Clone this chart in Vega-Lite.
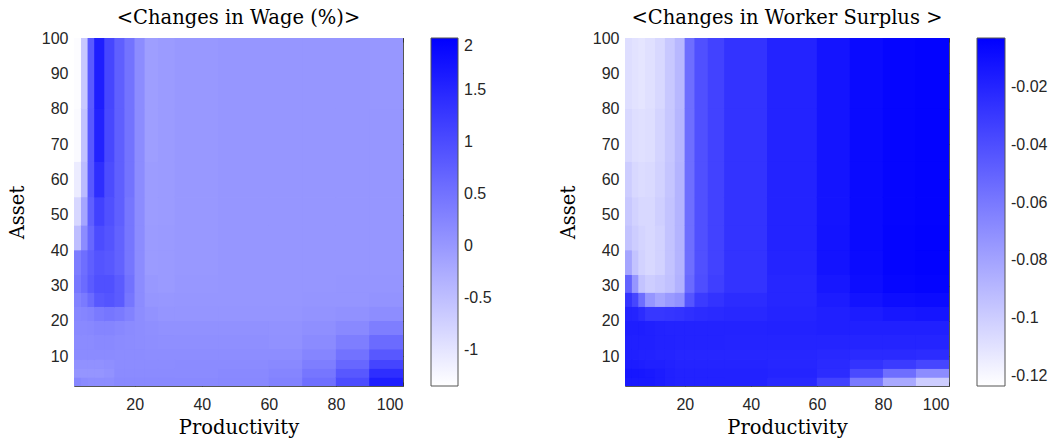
{
"$schema": "https://vega.github.io/schema/vega-lite/v6.json",
"padding": {"left": 6, "top": 7, "right": 2, "bottom": 2},
"background": "white",
"config": {
"locale": {"number": {"decimal": ".", "thousands": ",", "grouping": [3], "currency": ["$", ""], "minus": "-"}},
"view": {"stroke": "#555", "strokeWidth": 1},
"axis": {"domain": false, "grid": false, "tickColor": "#333", "tickSize": -4, "tickWidth": 1, "labelFont": "Liberation Sans", "labelFontSize": 16, "labelColor": "#262626", "titleFont": "DejaVu Serif", "titleFontSize": 19.5, "titleFontWeight": "normal", "titleColor": "#000"},
"title": {"font": "DejaVu Serif", "fontSize": 19.5, "fontWeight": "normal", "color": "#000", "frame": "group", "anchor": "middle", "offset": 2},
"legend": {"padding": 0}
},
"resolve": {"scale": {"fill": "independent", "stroke": "independent"}},
"spacing": 64,
"datasets": {
"wage": [
{"x":1.9,"x2":4,"y":1.6,"y2":4,"v":0.23},{"x":4,"x2":6,"y":1.6,"y2":4,"v":0.18},{"x":6,"x2":8,"y":1.6,"y2":4,"v":0.15},{"x":8,"x2":11,"y":1.6,"y2":4,"v":0.15},{"x":11,"x2":14,"y":1.6,"y2":4,"v":0.15},{"x":14,"x2":17,"y":1.6,"y2":4,"v":0.2},{"x":17,"x2":20,"y":1.6,"y2":4,"v":0.2},{"x":20,"x2":23,"y":1.6,"y2":4,"v":0.2},{"x":23,"x2":27,"y":1.6,"y2":4,"v":0.2},{"x":27,"x2":32,"y":1.6,"y2":4,"v":0.2},{"x":32,"x2":45,"y":1.6,"y2":4,"v":0.2},{"x":45,"x2":60,"y":1.6,"y2":4,"v":0.22},{"x":60,"x2":70,"y":1.6,"y2":4,"v":0.3},{"x":70,"x2":80,"y":1.6,"y2":4,"v":0.55},{"x":80,"x2":90,"y":1.6,"y2":4,"v":1.0},{"x":90,"x2":100,"y":1.6,"y2":4,"v":1.6},
{"x":1.9,"x2":4,"y":4,"y2":6.5,"v":0.05},{"x":4,"x2":6,"y":4,"y2":6.5,"v":0.05},{"x":6,"x2":8,"y":4,"y2":6.5,"v":0.05},{"x":8,"x2":11,"y":4,"y2":6.5,"v":0.05},{"x":11,"x2":14,"y":4,"y2":6.5,"v":0.08},{"x":14,"x2":17,"y":4,"y2":6.5,"v":0.18},{"x":17,"x2":20,"y":4,"y2":6.5,"v":0.18},{"x":20,"x2":23,"y":4,"y2":6.5,"v":0.18},{"x":23,"x2":27,"y":4,"y2":6.5,"v":0.18},{"x":27,"x2":32,"y":4,"y2":6.5,"v":0.18},{"x":32,"x2":45,"y":4,"y2":6.5,"v":0.18},{"x":45,"x2":60,"y":4,"y2":6.5,"v":0.2},{"x":60,"x2":70,"y":4,"y2":6.5,"v":0.25},{"x":70,"x2":80,"y":4,"y2":6.5,"v":0.45},{"x":80,"x2":90,"y":4,"y2":6.5,"v":0.85},{"x":90,"x2":100,"y":4,"y2":6.5,"v":1.4},
{"x":1.9,"x2":4,"y":6.5,"y2":9,"v":0.1},{"x":4,"x2":6,"y":6.5,"y2":9,"v":0.1},{"x":6,"x2":8,"y":6.5,"y2":9,"v":0.1},{"x":8,"x2":11,"y":6.5,"y2":9,"v":0.1},{"x":11,"x2":14,"y":6.5,"y2":9,"v":0.12},{"x":14,"x2":17,"y":6.5,"y2":9,"v":0.16},{"x":17,"x2":20,"y":6.5,"y2":9,"v":0.16},{"x":20,"x2":23,"y":6.5,"y2":9,"v":0.16},{"x":23,"x2":27,"y":6.5,"y2":9,"v":0.16},{"x":27,"x2":32,"y":6.5,"y2":9,"v":0.16},{"x":32,"x2":45,"y":6.5,"y2":9,"v":0.17},{"x":45,"x2":60,"y":6.5,"y2":9,"v":0.18},{"x":60,"x2":70,"y":6.5,"y2":9,"v":0.2},{"x":70,"x2":80,"y":6.5,"y2":9,"v":0.35},{"x":80,"x2":90,"y":6.5,"y2":9,"v":0.65},{"x":90,"x2":100,"y":6.5,"y2":9,"v":1.1},
{"x":1.9,"x2":4,"y":9,"y2":12,"v":0.18},{"x":4,"x2":6,"y":9,"y2":12,"v":0.18},{"x":6,"x2":8,"y":9,"y2":12,"v":0.18},{"x":8,"x2":11,"y":9,"y2":12,"v":0.18},{"x":11,"x2":14,"y":9,"y2":12,"v":0.18},{"x":14,"x2":17,"y":9,"y2":12,"v":0.16},{"x":17,"x2":20,"y":9,"y2":12,"v":0.16},{"x":20,"x2":23,"y":9,"y2":12,"v":0.16},{"x":23,"x2":27,"y":9,"y2":12,"v":0.15},{"x":27,"x2":32,"y":9,"y2":12,"v":0.15},{"x":32,"x2":45,"y":9,"y2":12,"v":0.15},{"x":45,"x2":60,"y":9,"y2":12,"v":0.15},{"x":60,"x2":70,"y":9,"y2":12,"v":0.15},{"x":70,"x2":80,"y":9,"y2":12,"v":0.25},{"x":80,"x2":90,"y":9,"y2":12,"v":0.5},{"x":90,"x2":100,"y":9,"y2":12,"v":0.85},
{"x":1.9,"x2":4,"y":12,"y2":16,"v":0.18},{"x":4,"x2":6,"y":12,"y2":16,"v":0.18},{"x":6,"x2":8,"y":12,"y2":16,"v":0.18},{"x":8,"x2":11,"y":12,"y2":16,"v":0.2},{"x":11,"x2":14,"y":12,"y2":16,"v":0.2},{"x":14,"x2":17,"y":12,"y2":16,"v":0.18},{"x":17,"x2":20,"y":12,"y2":16,"v":0.16},{"x":20,"x2":23,"y":12,"y2":16,"v":0.15},{"x":23,"x2":27,"y":12,"y2":16,"v":0.14},{"x":27,"x2":32,"y":12,"y2":16,"v":0.13},{"x":32,"x2":45,"y":12,"y2":16,"v":0.12},{"x":45,"x2":60,"y":12,"y2":16,"v":0.12},{"x":60,"x2":70,"y":12,"y2":16,"v":0.1},{"x":70,"x2":80,"y":12,"y2":16,"v":0.18},{"x":80,"x2":90,"y":12,"y2":16,"v":0.35},{"x":90,"x2":100,"y":12,"y2":16,"v":0.6},
{"x":1.9,"x2":4,"y":16,"y2":20,"v":0.2},{"x":4,"x2":6,"y":16,"y2":20,"v":0.2},{"x":6,"x2":8,"y":16,"y2":20,"v":0.22},{"x":8,"x2":11,"y":16,"y2":20,"v":0.25},{"x":11,"x2":14,"y":16,"y2":20,"v":0.25},{"x":14,"x2":17,"y":16,"y2":20,"v":0.22},{"x":17,"x2":20,"y":16,"y2":20,"v":0.18},{"x":20,"x2":23,"y":16,"y2":20,"v":0.15},{"x":23,"x2":27,"y":16,"y2":20,"v":0.12},{"x":27,"x2":32,"y":16,"y2":20,"v":0.1},{"x":32,"x2":45,"y":16,"y2":20,"v":0.1},{"x":45,"x2":60,"y":16,"y2":20,"v":0.1},{"x":60,"x2":70,"y":16,"y2":20,"v":0.08},{"x":70,"x2":80,"y":16,"y2":20,"v":0.12},{"x":80,"x2":90,"y":16,"y2":20,"v":0.2},{"x":90,"x2":100,"y":16,"y2":20,"v":0.35},
{"x":1.9,"x2":4,"y":20,"y2":24,"v":0.23},{"x":4,"x2":6,"y":20,"y2":24,"v":0.25},{"x":6,"x2":8,"y":20,"y2":24,"v":0.3},{"x":8,"x2":11,"y":20,"y2":24,"v":0.4},{"x":11,"x2":14,"y":20,"y2":24,"v":0.45},{"x":14,"x2":17,"y":20,"y2":24,"v":0.4},{"x":17,"x2":20,"y":20,"y2":24,"v":0.3},{"x":20,"x2":23,"y":20,"y2":24,"v":0.15},{"x":23,"x2":27,"y":20,"y2":24,"v":0.08},{"x":27,"x2":32,"y":20,"y2":24,"v":0.05},{"x":32,"x2":45,"y":20,"y2":24,"v":0.05},{"x":45,"x2":60,"y":20,"y2":24,"v":0.05},{"x":60,"x2":70,"y":20,"y2":24,"v":0.05},{"x":70,"x2":80,"y":20,"y2":24,"v":0.07},{"x":80,"x2":90,"y":20,"y2":24,"v":0.1},{"x":90,"x2":100,"y":20,"y2":24,"v":0.15},
{"x":1.9,"x2":4,"y":24,"y2":28,"v":0.29},{"x":4,"x2":6,"y":24,"y2":28,"v":0.4},{"x":6,"x2":8,"y":24,"y2":28,"v":0.6},{"x":8,"x2":11,"y":24,"y2":28,"v":0.85},{"x":11,"x2":14,"y":24,"y2":28,"v":0.9},{"x":14,"x2":17,"y":24,"y2":28,"v":0.8},{"x":17,"x2":20,"y":24,"y2":28,"v":0.45},{"x":20,"x2":23,"y":24,"y2":28,"v":0.16},{"x":23,"x2":27,"y":24,"y2":28,"v":0.03},{"x":27,"x2":32,"y":24,"y2":28,"v":0.02},{"x":32,"x2":45,"y":24,"y2":28,"v":0.03},{"x":45,"x2":60,"y":24,"y2":28,"v":0.03},{"x":60,"x2":70,"y":24,"y2":28,"v":0.03},{"x":70,"x2":80,"y":24,"y2":28,"v":0.04},{"x":80,"x2":90,"y":24,"y2":28,"v":0.05},{"x":90,"x2":100,"y":24,"y2":28,"v":0.07},
{"x":1.9,"x2":4,"y":28,"y2":33,"v":0.43},{"x":4,"x2":6,"y":28,"y2":33,"v":0.6},{"x":6,"x2":8,"y":28,"y2":33,"v":0.8},{"x":8,"x2":11,"y":28,"y2":33,"v":0.95},{"x":11,"x2":14,"y":28,"y2":33,"v":0.95},{"x":14,"x2":17,"y":28,"y2":33,"v":0.8},{"x":17,"x2":20,"y":28,"y2":33,"v":0.5},{"x":20,"x2":23,"y":28,"y2":33,"v":0.16},{"x":23,"x2":27,"y":28,"y2":33,"v":0.0},{"x":27,"x2":32,"y":28,"y2":33,"v":-0.02},{"x":32,"x2":45,"y":28,"y2":33,"v":0.02},{"x":45,"x2":60,"y":28,"y2":33,"v":0.03},{"x":60,"x2":70,"y":28,"y2":33,"v":0.03},{"x":70,"x2":80,"y":28,"y2":33,"v":0.03},{"x":80,"x2":90,"y":28,"y2":33,"v":0.04},{"x":90,"x2":100,"y":28,"y2":33,"v":0.04},
{"x":1.9,"x2":4,"y":33,"y2":40,"v":0.36},{"x":4,"x2":6,"y":33,"y2":40,"v":0.56},{"x":6,"x2":8,"y":33,"y2":40,"v":0.75},{"x":8,"x2":11,"y":33,"y2":40,"v":0.9},{"x":11,"x2":14,"y":33,"y2":40,"v":0.85},{"x":14,"x2":17,"y":33,"y2":40,"v":0.72},{"x":17,"x2":20,"y":33,"y2":40,"v":0.45},{"x":20,"x2":23,"y":33,"y2":40,"v":0.16},{"x":23,"x2":27,"y":33,"y2":40,"v":-0.03},{"x":27,"x2":32,"y":33,"y2":40,"v":-0.02},{"x":32,"x2":45,"y":33,"y2":40,"v":0.0},{"x":45,"x2":60,"y":33,"y2":40,"v":0.03},{"x":60,"x2":70,"y":33,"y2":40,"v":0.03},{"x":70,"x2":80,"y":33,"y2":40,"v":0.03},{"x":80,"x2":90,"y":33,"y2":40,"v":0.03},{"x":90,"x2":100,"y":33,"y2":40,"v":0.03},
{"x":1.9,"x2":4,"y":40,"y2":47,"v":-0.49},{"x":4,"x2":6,"y":40,"y2":47,"v":0.16},{"x":6,"x2":8,"y":40,"y2":47,"v":0.65},{"x":8,"x2":11,"y":40,"y2":47,"v":1.0},{"x":11,"x2":14,"y":40,"y2":47,"v":0.9},{"x":14,"x2":17,"y":40,"y2":47,"v":0.72},{"x":17,"x2":20,"y":40,"y2":47,"v":0.45},{"x":20,"x2":23,"y":40,"y2":47,"v":0.16},{"x":23,"x2":27,"y":40,"y2":47,"v":-0.03},{"x":27,"x2":32,"y":40,"y2":47,"v":-0.02},{"x":32,"x2":45,"y":40,"y2":47,"v":0.0},{"x":45,"x2":60,"y":40,"y2":47,"v":0.03},{"x":60,"x2":70,"y":40,"y2":47,"v":0.03},{"x":70,"x2":80,"y":40,"y2":47,"v":0.03},{"x":80,"x2":90,"y":40,"y2":47,"v":0.03},{"x":90,"x2":100,"y":40,"y2":47,"v":0.03},
{"x":1.9,"x2":4,"y":47,"y2":55,"v":-0.82},{"x":4,"x2":6,"y":47,"y2":55,"v":-0.16},{"x":6,"x2":8,"y":47,"y2":55,"v":0.75},{"x":8,"x2":11,"y":47,"y2":55,"v":1.15},{"x":11,"x2":14,"y":47,"y2":55,"v":0.95},{"x":14,"x2":17,"y":47,"y2":55,"v":0.75},{"x":17,"x2":20,"y":47,"y2":55,"v":0.45},{"x":20,"x2":23,"y":47,"y2":55,"v":0.16},{"x":23,"x2":27,"y":47,"y2":55,"v":-0.05},{"x":27,"x2":32,"y":47,"y2":55,"v":-0.03},{"x":32,"x2":45,"y":47,"y2":55,"v":0.0},{"x":45,"x2":60,"y":47,"y2":55,"v":0.03},{"x":60,"x2":70,"y":47,"y2":55,"v":0.03},{"x":70,"x2":80,"y":47,"y2":55,"v":0.03},{"x":80,"x2":90,"y":47,"y2":55,"v":0.03},{"x":90,"x2":100,"y":47,"y2":55,"v":0.03},
{"x":1.9,"x2":4,"y":55,"y2":65,"v":-1.1},{"x":4,"x2":6,"y":55,"y2":65,"v":-0.45},{"x":6,"x2":8,"y":55,"y2":65,"v":0.85},{"x":8,"x2":11,"y":55,"y2":65,"v":1.4},{"x":11,"x2":14,"y":55,"y2":65,"v":1.0},{"x":14,"x2":17,"y":55,"y2":65,"v":0.75},{"x":17,"x2":20,"y":55,"y2":65,"v":0.49},{"x":20,"x2":23,"y":55,"y2":65,"v":0.16},{"x":23,"x2":27,"y":55,"y2":65,"v":-0.05},{"x":27,"x2":32,"y":55,"y2":65,"v":-0.03},{"x":32,"x2":45,"y":55,"y2":65,"v":0.0},{"x":45,"x2":60,"y":55,"y2":65,"v":0.03},{"x":60,"x2":70,"y":55,"y2":65,"v":0.03},{"x":70,"x2":80,"y":55,"y2":65,"v":0.03},{"x":80,"x2":90,"y":55,"y2":65,"v":0.03},{"x":90,"x2":100,"y":55,"y2":65,"v":0.03},
{"x":1.9,"x2":4,"y":65,"y2":80,"v":-1.28},{"x":4,"x2":6,"y":65,"y2":80,"v":-0.55},{"x":6,"x2":8,"y":65,"y2":80,"v":0.85},{"x":8,"x2":11,"y":65,"y2":80,"v":1.55},{"x":11,"x2":14,"y":65,"y2":80,"v":1.05},{"x":14,"x2":17,"y":65,"y2":80,"v":0.75},{"x":17,"x2":20,"y":65,"y2":80,"v":0.49},{"x":20,"x2":23,"y":65,"y2":80,"v":0.16},{"x":23,"x2":27,"y":65,"y2":80,"v":-0.07},{"x":27,"x2":32,"y":65,"y2":80,"v":-0.03},{"x":32,"x2":45,"y":65,"y2":80,"v":0.0},{"x":45,"x2":60,"y":65,"y2":80,"v":0.03},{"x":60,"x2":70,"y":65,"y2":80,"v":0.03},{"x":70,"x2":80,"y":65,"y2":80,"v":0.03},{"x":80,"x2":90,"y":65,"y2":80,"v":0.03},{"x":90,"x2":100,"y":65,"y2":80,"v":0.03},
{"x":1.9,"x2":4,"y":80,"y2":100,"v":-1.31},{"x":4,"x2":6,"y":80,"y2":100,"v":-0.62},{"x":6,"x2":8,"y":80,"y2":100,"v":0.82},{"x":8,"x2":11,"y":80,"y2":100,"v":1.6},{"x":11,"x2":14,"y":80,"y2":100,"v":1.08},{"x":14,"x2":17,"y":80,"y2":100,"v":0.75},{"x":17,"x2":20,"y":80,"y2":100,"v":0.49},{"x":20,"x2":23,"y":80,"y2":100,"v":0.16},{"x":23,"x2":27,"y":80,"y2":100,"v":-0.07},{"x":27,"x2":32,"y":80,"y2":100,"v":-0.03},{"x":32,"x2":45,"y":80,"y2":100,"v":0.0},{"x":45,"x2":60,"y":80,"y2":100,"v":0.03},{"x":60,"x2":70,"y":80,"y2":100,"v":0.03},{"x":70,"x2":80,"y":80,"y2":100,"v":0.03},{"x":80,"x2":90,"y":80,"y2":100,"v":0.03},{"x":90,"x2":100,"y":80,"y2":100,"v":0.02}
],
"surplus": [
{"x":1.9,"x2":4,"y":1.6,"y2":4,"v":-0.015},{"x":4,"x2":6,"y":1.6,"y2":4,"v":-0.015},{"x":6,"x2":8,"y":1.6,"y2":4,"v":-0.015},{"x":8,"x2":11,"y":1.6,"y2":4,"v":-0.015},{"x":11,"x2":14,"y":1.6,"y2":4,"v":-0.016},{"x":14,"x2":17,"y":1.6,"y2":4,"v":-0.018},{"x":17,"x2":20,"y":1.6,"y2":4,"v":-0.019},{"x":20,"x2":23,"y":1.6,"y2":4,"v":-0.019},{"x":23,"x2":27,"y":1.6,"y2":4,"v":-0.019},{"x":27,"x2":32,"y":1.6,"y2":4,"v":-0.019},{"x":32,"x2":45,"y":1.6,"y2":4,"v":-0.019},{"x":45,"x2":60,"y":1.6,"y2":4,"v":-0.022},{"x":60,"x2":70,"y":1.6,"y2":4,"v":-0.034},{"x":70,"x2":80,"y":1.6,"y2":4,"v":-0.06},{"x":80,"x2":90,"y":1.6,"y2":4,"v":-0.083},{"x":90,"x2":100,"y":1.6,"y2":4,"v":-0.1},
{"x":1.9,"x2":4,"y":4,"y2":6.5,"v":-0.0135},{"x":4,"x2":6,"y":4,"y2":6.5,"v":-0.0135},{"x":6,"x2":8,"y":4,"y2":6.5,"v":-0.014},{"x":8,"x2":11,"y":4,"y2":6.5,"v":-0.015},{"x":11,"x2":14,"y":4,"y2":6.5,"v":-0.016},{"x":14,"x2":17,"y":4,"y2":6.5,"v":-0.018},{"x":17,"x2":20,"y":4,"y2":6.5,"v":-0.019},{"x":20,"x2":23,"y":4,"y2":6.5,"v":-0.019},{"x":23,"x2":27,"y":4,"y2":6.5,"v":-0.019},{"x":27,"x2":32,"y":4,"y2":6.5,"v":-0.019},{"x":32,"x2":45,"y":4,"y2":6.5,"v":-0.019},{"x":45,"x2":60,"y":4,"y2":6.5,"v":-0.02},{"x":60,"x2":70,"y":4,"y2":6.5,"v":-0.024},{"x":70,"x2":80,"y":4,"y2":6.5,"v":-0.038},{"x":80,"x2":90,"y":4,"y2":6.5,"v":-0.055},{"x":90,"x2":100,"y":4,"y2":6.5,"v":-0.069},
{"x":1.9,"x2":4,"y":6.5,"y2":9,"v":-0.016},{"x":4,"x2":6,"y":6.5,"y2":9,"v":-0.016},{"x":6,"x2":8,"y":6.5,"y2":9,"v":-0.017},{"x":8,"x2":11,"y":6.5,"y2":9,"v":-0.018},{"x":11,"x2":14,"y":6.5,"y2":9,"v":-0.018},{"x":14,"x2":17,"y":6.5,"y2":9,"v":-0.019},{"x":17,"x2":20,"y":6.5,"y2":9,"v":-0.02},{"x":20,"x2":23,"y":6.5,"y2":9,"v":-0.02},{"x":23,"x2":27,"y":6.5,"y2":9,"v":-0.02},{"x":27,"x2":32,"y":6.5,"y2":9,"v":-0.02},{"x":32,"x2":45,"y":6.5,"y2":9,"v":-0.02},{"x":45,"x2":60,"y":6.5,"y2":9,"v":-0.021},{"x":60,"x2":70,"y":6.5,"y2":9,"v":-0.023},{"x":70,"x2":80,"y":6.5,"y2":9,"v":-0.027},{"x":80,"x2":90,"y":6.5,"y2":9,"v":-0.031},{"x":90,"x2":100,"y":6.5,"y2":9,"v":-0.036},
{"x":1.9,"x2":4,"y":9,"y2":12,"v":-0.018},{"x":4,"x2":6,"y":9,"y2":12,"v":-0.018},{"x":6,"x2":8,"y":9,"y2":12,"v":-0.019},{"x":8,"x2":11,"y":9,"y2":12,"v":-0.019},{"x":11,"x2":14,"y":9,"y2":12,"v":-0.02},{"x":14,"x2":17,"y":9,"y2":12,"v":-0.02},{"x":17,"x2":20,"y":9,"y2":12,"v":-0.021},{"x":20,"x2":23,"y":9,"y2":12,"v":-0.021},{"x":23,"x2":27,"y":9,"y2":12,"v":-0.021},{"x":27,"x2":32,"y":9,"y2":12,"v":-0.021},{"x":32,"x2":45,"y":9,"y2":12,"v":-0.021},{"x":45,"x2":60,"y":9,"y2":12,"v":-0.021},{"x":60,"x2":70,"y":9,"y2":12,"v":-0.022},{"x":70,"x2":80,"y":9,"y2":12,"v":-0.023},{"x":80,"x2":90,"y":9,"y2":12,"v":-0.023},{"x":90,"x2":100,"y":9,"y2":12,"v":-0.024},
{"x":1.9,"x2":4,"y":12,"y2":16,"v":-0.018},{"x":4,"x2":6,"y":12,"y2":16,"v":-0.018},{"x":6,"x2":8,"y":12,"y2":16,"v":-0.018},{"x":8,"x2":11,"y":12,"y2":16,"v":-0.018},{"x":11,"x2":14,"y":12,"y2":16,"v":-0.019},{"x":14,"x2":17,"y":12,"y2":16,"v":-0.019},{"x":17,"x2":20,"y":12,"y2":16,"v":-0.0195},{"x":20,"x2":23,"y":12,"y2":16,"v":-0.0195},{"x":23,"x2":27,"y":12,"y2":16,"v":-0.0195},{"x":27,"x2":32,"y":12,"y2":16,"v":-0.0195},{"x":32,"x2":45,"y":12,"y2":16,"v":-0.02},{"x":45,"x2":60,"y":12,"y2":16,"v":-0.02},{"x":60,"x2":70,"y":12,"y2":16,"v":-0.02},{"x":70,"x2":80,"y":12,"y2":16,"v":-0.02},{"x":80,"x2":90,"y":12,"y2":16,"v":-0.02},{"x":90,"x2":100,"y":12,"y2":16,"v":-0.02},
{"x":1.9,"x2":4,"y":16,"y2":20,"v":-0.017},{"x":4,"x2":6,"y":16,"y2":20,"v":-0.017},{"x":6,"x2":8,"y":16,"y2":20,"v":-0.017},{"x":8,"x2":11,"y":16,"y2":20,"v":-0.018},{"x":11,"x2":14,"y":16,"y2":20,"v":-0.019},{"x":14,"x2":17,"y":16,"y2":20,"v":-0.0195},{"x":17,"x2":20,"y":16,"y2":20,"v":-0.0195},{"x":20,"x2":23,"y":16,"y2":20,"v":-0.0195},{"x":23,"x2":27,"y":16,"y2":20,"v":-0.0195},{"x":27,"x2":32,"y":16,"y2":20,"v":-0.0195},{"x":32,"x2":45,"y":16,"y2":20,"v":-0.0195},{"x":45,"x2":60,"y":16,"y2":20,"v":-0.019},{"x":60,"x2":70,"y":16,"y2":20,"v":-0.018},{"x":70,"x2":80,"y":16,"y2":20,"v":-0.018},{"x":80,"x2":90,"y":16,"y2":20,"v":-0.018},{"x":90,"x2":100,"y":16,"y2":20,"v":-0.018},
{"x":1.9,"x2":4,"y":20,"y2":24,"v":-0.0195},{"x":4,"x2":6,"y":20,"y2":24,"v":-0.02},{"x":6,"x2":8,"y":20,"y2":24,"v":-0.024},{"x":8,"x2":11,"y":20,"y2":24,"v":-0.029},{"x":11,"x2":14,"y":20,"y2":24,"v":-0.029},{"x":14,"x2":17,"y":20,"y2":24,"v":-0.028},{"x":17,"x2":20,"y":20,"y2":24,"v":-0.027},{"x":20,"x2":23,"y":20,"y2":24,"v":-0.025},{"x":23,"x2":27,"y":20,"y2":24,"v":-0.024},{"x":27,"x2":32,"y":20,"y2":24,"v":-0.023},{"x":32,"x2":45,"y":20,"y2":24,"v":-0.022},{"x":45,"x2":60,"y":20,"y2":24,"v":-0.02},{"x":60,"x2":70,"y":20,"y2":24,"v":-0.018},{"x":70,"x2":80,"y":20,"y2":24,"v":-0.016},{"x":80,"x2":90,"y":20,"y2":24,"v":-0.014},{"x":90,"x2":100,"y":20,"y2":24,"v":-0.013},
{"x":1.9,"x2":4,"y":24,"y2":28,"v":-0.027},{"x":4,"x2":6,"y":24,"y2":28,"v":-0.036},{"x":6,"x2":8,"y":24,"y2":28,"v":-0.055},{"x":8,"x2":11,"y":24,"y2":28,"v":-0.074},{"x":11,"x2":14,"y":24,"y2":28,"v":-0.081},{"x":14,"x2":17,"y":24,"y2":28,"v":-0.076},{"x":17,"x2":20,"y":24,"y2":28,"v":-0.072},{"x":20,"x2":23,"y":24,"y2":28,"v":-0.043},{"x":23,"x2":27,"y":24,"y2":28,"v":-0.031},{"x":27,"x2":32,"y":24,"y2":28,"v":-0.027},{"x":32,"x2":45,"y":24,"y2":28,"v":-0.024},{"x":45,"x2":60,"y":24,"y2":28,"v":-0.021},{"x":60,"x2":70,"y":24,"y2":28,"v":-0.016},{"x":70,"x2":80,"y":24,"y2":28,"v":-0.012},{"x":80,"x2":90,"y":24,"y2":28,"v":-0.009},{"x":90,"x2":100,"y":24,"y2":28,"v":-0.008},
{"x":1.9,"x2":4,"y":28,"y2":33,"v":-0.05},{"x":4,"x2":6,"y":28,"y2":33,"v":-0.074},{"x":6,"x2":8,"y":28,"y2":33,"v":-0.095},{"x":8,"x2":11,"y":28,"y2":33,"v":-0.1},{"x":11,"x2":14,"y":28,"y2":33,"v":-0.0975},{"x":14,"x2":17,"y":28,"y2":33,"v":-0.094},{"x":17,"x2":20,"y":28,"y2":33,"v":-0.087},{"x":20,"x2":23,"y":28,"y2":33,"v":-0.053},{"x":23,"x2":27,"y":28,"y2":33,"v":-0.04},{"x":27,"x2":32,"y":28,"y2":33,"v":-0.033},{"x":32,"x2":45,"y":28,"y2":33,"v":-0.027},{"x":45,"x2":60,"y":28,"y2":33,"v":-0.021},{"x":60,"x2":70,"y":28,"y2":33,"v":-0.014},{"x":70,"x2":80,"y":28,"y2":33,"v":-0.009},{"x":80,"x2":90,"y":28,"y2":33,"v":-0.006},{"x":90,"x2":100,"y":28,"y2":33,"v":-0.005},
{"x":1.9,"x2":4,"y":33,"y2":40,"v":-0.081},{"x":4,"x2":6,"y":33,"y2":40,"v":-0.095},{"x":6,"x2":8,"y":33,"y2":40,"v":-0.102},{"x":8,"x2":11,"y":33,"y2":40,"v":-0.105},{"x":11,"x2":14,"y":33,"y2":40,"v":-0.102},{"x":14,"x2":17,"y":33,"y2":40,"v":-0.095},{"x":17,"x2":20,"y":33,"y2":40,"v":-0.088},{"x":20,"x2":23,"y":33,"y2":40,"v":-0.055},{"x":23,"x2":27,"y":33,"y2":40,"v":-0.041},{"x":27,"x2":32,"y":33,"y2":40,"v":-0.034},{"x":32,"x2":45,"y":33,"y2":40,"v":-0.027},{"x":45,"x2":60,"y":33,"y2":40,"v":-0.02},{"x":60,"x2":70,"y":33,"y2":40,"v":-0.012},{"x":70,"x2":80,"y":33,"y2":40,"v":-0.008},{"x":80,"x2":90,"y":33,"y2":40,"v":-0.005},{"x":90,"x2":100,"y":33,"y2":40,"v":-0.004},
{"x":1.9,"x2":4,"y":40,"y2":47,"v":-0.095},{"x":4,"x2":6,"y":40,"y2":47,"v":-0.1},{"x":6,"x2":8,"y":40,"y2":47,"v":-0.103},{"x":8,"x2":11,"y":40,"y2":47,"v":-0.105},{"x":11,"x2":14,"y":40,"y2":47,"v":-0.102},{"x":14,"x2":17,"y":40,"y2":47,"v":-0.095},{"x":17,"x2":20,"y":40,"y2":47,"v":-0.088},{"x":20,"x2":23,"y":40,"y2":47,"v":-0.055},{"x":23,"x2":27,"y":40,"y2":47,"v":-0.041},{"x":27,"x2":32,"y":40,"y2":47,"v":-0.034},{"x":32,"x2":45,"y":40,"y2":47,"v":-0.027},{"x":45,"x2":60,"y":40,"y2":47,"v":-0.0195},{"x":60,"x2":70,"y":40,"y2":47,"v":-0.012},{"x":70,"x2":80,"y":40,"y2":47,"v":-0.0075},{"x":80,"x2":90,"y":40,"y2":47,"v":-0.005},{"x":90,"x2":100,"y":40,"y2":47,"v":-0.004},
{"x":1.9,"x2":4,"y":47,"y2":55,"v":-0.0975},{"x":4,"x2":6,"y":47,"y2":55,"v":-0.102},{"x":6,"x2":8,"y":47,"y2":55,"v":-0.105},{"x":8,"x2":11,"y":47,"y2":55,"v":-0.105},{"x":11,"x2":14,"y":47,"y2":55,"v":-0.101},{"x":14,"x2":17,"y":47,"y2":55,"v":-0.095},{"x":17,"x2":20,"y":47,"y2":55,"v":-0.088},{"x":20,"x2":23,"y":47,"y2":55,"v":-0.055},{"x":23,"x2":27,"y":47,"y2":55,"v":-0.041},{"x":27,"x2":32,"y":47,"y2":55,"v":-0.034},{"x":32,"x2":45,"y":47,"y2":55,"v":-0.027},{"x":45,"x2":60,"y":47,"y2":55,"v":-0.0195},{"x":60,"x2":70,"y":47,"y2":55,"v":-0.0125},{"x":70,"x2":80,"y":47,"y2":55,"v":-0.0077},{"x":80,"x2":90,"y":47,"y2":55,"v":-0.0054},{"x":90,"x2":100,"y":47,"y2":55,"v":-0.0044},
{"x":1.9,"x2":4,"y":55,"y2":65,"v":-0.1},{"x":4,"x2":6,"y":55,"y2":65,"v":-0.105},{"x":6,"x2":8,"y":55,"y2":65,"v":-0.107},{"x":8,"x2":11,"y":55,"y2":65,"v":-0.106},{"x":11,"x2":14,"y":55,"y2":65,"v":-0.102},{"x":14,"x2":17,"y":55,"y2":65,"v":-0.096},{"x":17,"x2":20,"y":55,"y2":65,"v":-0.088},{"x":20,"x2":23,"y":55,"y2":65,"v":-0.055},{"x":23,"x2":27,"y":55,"y2":65,"v":-0.041},{"x":27,"x2":32,"y":55,"y2":65,"v":-0.034},{"x":32,"x2":45,"y":55,"y2":65,"v":-0.027},{"x":45,"x2":60,"y":55,"y2":65,"v":-0.0195},{"x":60,"x2":70,"y":55,"y2":65,"v":-0.0125},{"x":70,"x2":80,"y":55,"y2":65,"v":-0.0077},{"x":80,"x2":90,"y":55,"y2":65,"v":-0.0054},{"x":90,"x2":100,"y":55,"y2":65,"v":-0.0044},
{"x":1.9,"x2":4,"y":65,"y2":80,"v":-0.105},{"x":4,"x2":6,"y":65,"y2":80,"v":-0.108},{"x":6,"x2":8,"y":65,"y2":80,"v":-0.109},{"x":8,"x2":11,"y":65,"y2":80,"v":-0.108},{"x":11,"x2":14,"y":65,"y2":80,"v":-0.103},{"x":14,"x2":17,"y":65,"y2":80,"v":-0.097},{"x":17,"x2":20,"y":65,"y2":80,"v":-0.089},{"x":20,"x2":23,"y":65,"y2":80,"v":-0.055},{"x":23,"x2":27,"y":65,"y2":80,"v":-0.041},{"x":27,"x2":32,"y":65,"y2":80,"v":-0.034},{"x":32,"x2":45,"y":65,"y2":80,"v":-0.027},{"x":45,"x2":60,"y":65,"y2":80,"v":-0.0195},{"x":60,"x2":70,"y":65,"y2":80,"v":-0.0125},{"x":70,"x2":80,"y":65,"y2":80,"v":-0.0077},{"x":80,"x2":90,"y":65,"y2":80,"v":-0.0054},{"x":90,"x2":100,"y":65,"y2":80,"v":-0.0044},
{"x":1.9,"x2":4,"y":80,"y2":100,"v":-0.108},{"x":4,"x2":6,"y":80,"y2":100,"v":-0.11},{"x":6,"x2":8,"y":80,"y2":100,"v":-0.111},{"x":8,"x2":11,"y":80,"y2":100,"v":-0.109},{"x":11,"x2":14,"y":80,"y2":100,"v":-0.105},{"x":14,"x2":17,"y":80,"y2":100,"v":-0.0975},{"x":17,"x2":20,"y":80,"y2":100,"v":-0.09},{"x":20,"x2":23,"y":80,"y2":100,"v":-0.055},{"x":23,"x2":27,"y":80,"y2":100,"v":-0.041},{"x":27,"x2":32,"y":80,"y2":100,"v":-0.034},{"x":32,"x2":45,"y":80,"y2":100,"v":-0.027},{"x":45,"x2":60,"y":80,"y2":100,"v":-0.0195},{"x":60,"x2":70,"y":80,"y2":100,"v":-0.0125},{"x":70,"x2":80,"y":80,"y2":100,"v":-0.0077},{"x":80,"x2":90,"y":80,"y2":100,"v":-0.0054},{"x":90,"x2":100,"y":80,"y2":100,"v":-0.0044}
]
},
"hconcat": [
{
"width": 329, "height": 348,
"title": "<Changes in Wage (%)>",
"data": {"name": "wage"},
"layer": [
{"mark": {"type": "rect", "filled": false, "strokeWidth": 1.4, "clip": true},
 "encoding": {
  "x": {"field": "x", "type": "quantitative", "scale": {"domain": [1.9, 100], "nice": false, "zero": false}, "axis": null},
  "x2": {"field": "x2"},
  "y": {"field": "y", "type": "quantitative", "scale": {"domain": [1.6, 100], "nice": false, "zero": false}, "axis": null},
  "y2": {"field": "y2"},
  "stroke": {"field": "v", "type": "quantitative", "scale": {"domain": [-1.3462, 2.0002], "range": ["#ffffff", "#0000ff"], "interpolate": "rgb"}, "legend": null}
 }},
{"mark": {"type": "rect"},
 "encoding": {
  "x": {"field": "x", "type": "quantitative", "axis": {"values": [20, 40, 60, 80, 100], "title": "Productivity", "labelPadding": 14, "titlePadding": 6}},
  "x2": {"field": "x2"},
  "y": {"field": "y", "type": "quantitative", "axis": {"values": [10, 20, 30, 40, 50, 60, 70, 80, 90, 100], "title": "Asset", "labelPadding": 10, "titlePadding": 14}},
  "y2": {"field": "y2"},
  "fill": {"field": "v", "type": "quantitative", "scale": {"domain": [-1.346, 2], "range": ["#ffffff", "#0000ff"], "interpolate": "rgb"},
   "legend": {"type": "gradient", "title": null, "orient": "right", "offset": 27, "direction": "vertical", "gradientLength": 348, "gradientThickness": 27, "gradientStrokeColor": "#555", "gradientStrokeWidth": 1, "values": [-1, -0.5, 0, 0.5, 1, 1.5, 2], "format": "~g", "labelFont": "Liberation Sans", "labelFontSize": 16, "labelColor": "#262626", "labelOffset": 6, "labelFlush": false, "labelOverlap": false}}
 }},
{"mark": {"type": "rect", "opacity": 0},
 "encoding": {
  "x": {"field": "x", "type": "quantitative", "axis": {"orient": "top", "values": [20, 40, 60, 80, 100], "labels": false, "title": null}},
  "x2": {"field": "x2"},
  "y": {"field": "y", "type": "quantitative", "axis": {"orient": "right", "values": [10, 20, 30, 40, 50, 60, 70, 80, 90, 100], "labels": false, "title": null}},
  "y2": {"field": "y2"}
 }}
],
"resolve": {"axis": {"x": "independent", "y": "independent"}}
},
{
"width": 324, "height": 348,
"title": "<Changes in Worker Surplus >",
"data": {"name": "surplus"},
"layer": [
{"mark": {"type": "rect", "filled": false, "strokeWidth": 1.4, "clip": true},
 "encoding": {
  "x": {"field": "x", "type": "quantitative", "scale": {"domain": [1.9, 100], "nice": false, "zero": false}, "axis": null},
  "x2": {"field": "x2"},
  "y": {"field": "y", "type": "quantitative", "scale": {"domain": [1.6, 100], "nice": false, "zero": false}, "axis": null},
  "y2": {"field": "y2"},
  "stroke": {"field": "v", "type": "quantitative", "scale": {"domain": [-0.12351, -0.00299], "range": ["#ffffff", "#0000ff"], "interpolate": "rgb"}, "legend": null}
 }},
{"mark": {"type": "rect"},
 "encoding": {
  "x": {"field": "x", "type": "quantitative", "axis": {"values": [20, 40, 60, 80, 100], "title": "Productivity", "labelPadding": 14, "titlePadding": 6}},
  "x2": {"field": "x2"},
  "y": {"field": "y", "type": "quantitative", "axis": {"values": [10, 20, 30, 40, 50, 60, 70, 80, 90, 100], "title": "Asset", "labelPadding": 10, "titlePadding": 14}},
  "y2": {"field": "y2"},
  "fill": {"field": "v", "type": "quantitative", "scale": {"domain": [-0.1235, -0.003], "range": ["#ffffff", "#0000ff"], "interpolate": "rgb"},
   "legend": {"type": "gradient", "title": null, "orient": "right", "offset": 27, "direction": "vertical", "gradientLength": 348, "gradientThickness": 28, "gradientStrokeColor": "#555", "gradientStrokeWidth": 1, "values": [-0.12, -0.1, -0.08, -0.06, -0.04, -0.02], "format": "~g", "labelFont": "Liberation Sans", "labelFontSize": 16, "labelColor": "#262626", "labelOffset": 6, "labelFlush": false, "labelOverlap": false}}
 }},
{"mark": {"type": "rect", "opacity": 0},
 "encoding": {
  "x": {"field": "x", "type": "quantitative", "axis": {"orient": "top", "values": [20, 40, 60, 80, 100], "labels": false, "title": null}},
  "x2": {"field": "x2"},
  "y": {"field": "y", "type": "quantitative", "axis": {"orient": "right", "values": [10, 20, 30, 40, 50, 60, 70, 80, 90, 100], "labels": false, "title": null}},
  "y2": {"field": "y2"}
 }}
],
"resolve": {"axis": {"x": "independent", "y": "independent"}}
}
]
}
